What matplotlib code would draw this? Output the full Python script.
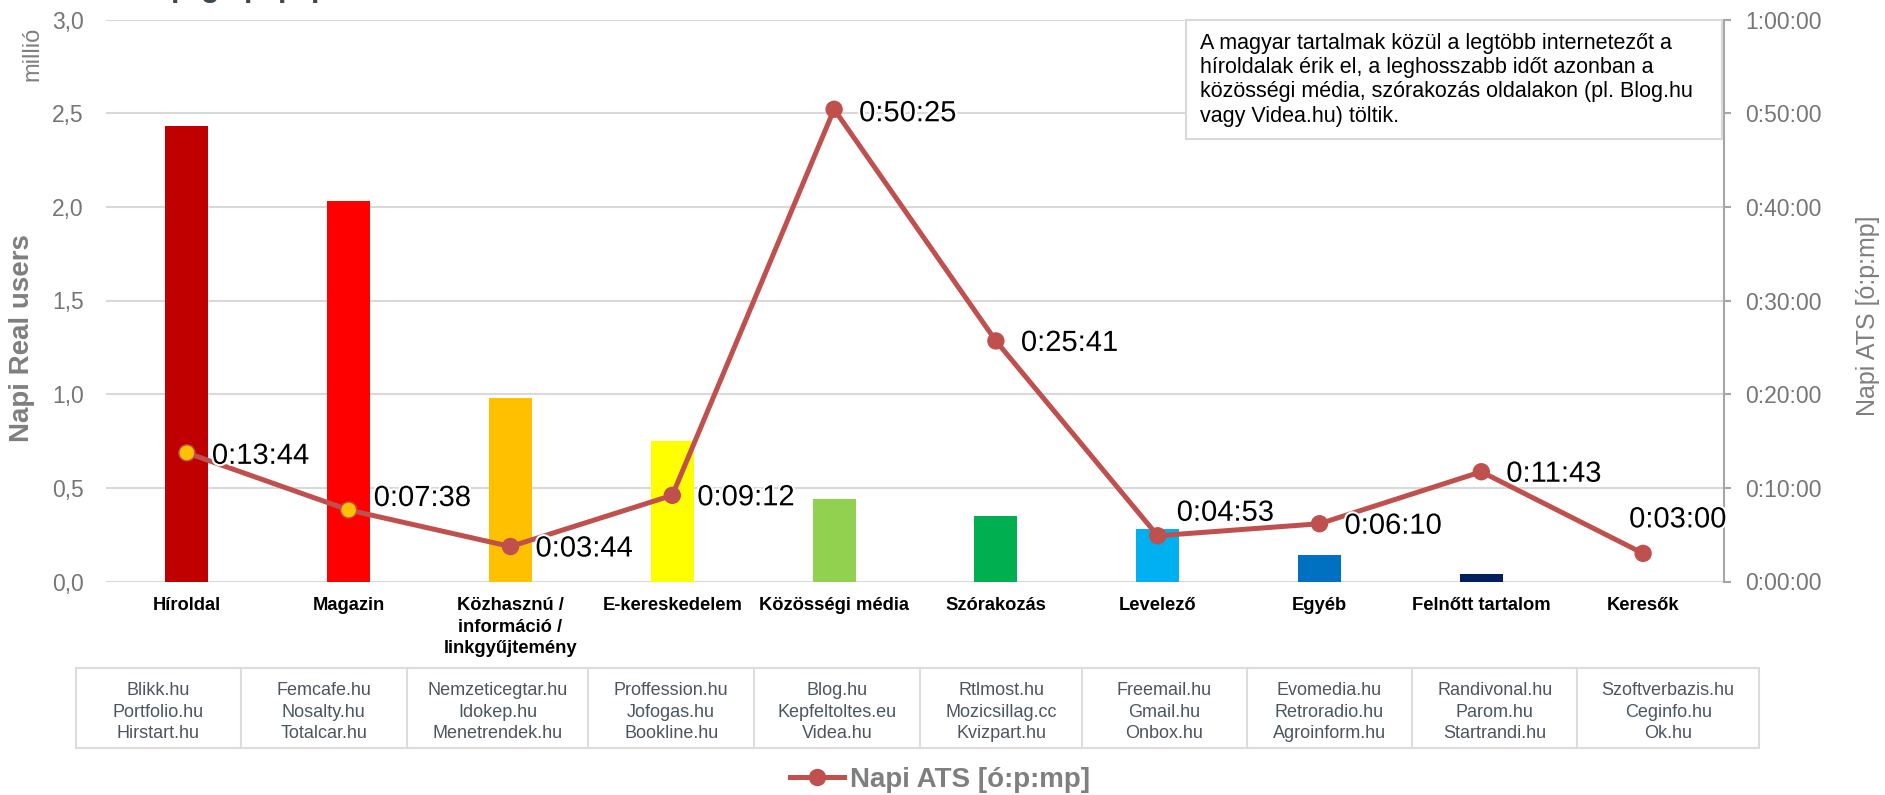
import matplotlib
matplotlib.use('Agg')
import matplotlib.pyplot as plt
from matplotlib.lines import Line2D
from matplotlib.patches import Rectangle
import matplotlib.patheffects as pe
from matplotlib.transforms import blended_transform_factory

plt.rcParams['font.family'] = ['Liberation Sans', 'DejaVu Sans']

# ---------------- data ----------------
categories = ['Híroldal', 'Magazin', 'Közhasznú /\ninformáció /\nlinkgyűjtemény',
              'E-kereskedelem', 'Közösségi média', 'Szórakozás', 'Levelező',
              'Egyéb', 'Felnőtt tartalom', 'Keresők']
real_users = [2.43, 2.03, 0.98, 0.75, 0.44, 0.35, 0.28, 0.14, 0.04, 0.0]
ats = ['0:13:44', '0:07:38', '0:03:44', '0:09:12', '0:50:25',
       '0:25:41', '0:04:53', '0:06:10', '0:11:43', '0:03:00']
bar_colors = ['#c00000', '#ff0000', '#ffc000', '#ffff00', '#92d050',
              '#00b050', '#00b0f0', '#0070c0', '#002060', '#7030a0']
marker_colors = ['#ffc000', '#ffc000'] + ['#c0504d'] * 8
sites = [['Blikk.hu', 'Portfolio.hu', 'Hirstart.hu'],
         ['Femcafe.hu', 'Nosalty.hu', 'Totalcar.hu'],
         ['Nemzeticegtar.hu', 'Idokep.hu', 'Menetrendek.hu'],
         ['Proffession.hu', 'Jofogas.hu', 'Bookline.hu'],
         ['Blog.hu', 'Kepfeltoltes.eu', 'Videa.hu'],
         ['Rtlmost.hu', 'Mozicsillag.cc', 'Kvizpart.hu'],
         ['Freemail.hu', 'Gmail.hu', 'Onbox.hu'],
         ['Evomedia.hu', 'Retroradio.hu', 'Agroinform.hu'],
         ['Randivonal.hu', 'Parom.hu', 'Startrandi.hu'],
         ['Szoftverbazis.hu', 'Ceginfo.hu', 'Ok.hu']]
left_ticks = [0.0, 0.5, 1.0, 1.5, 2.0, 2.5, 3.0]
right_ticks = ['0:00:00', '0:10:00', '0:20:00', '0:30:00', '0:40:00', '0:50:00', '1:00:00']
note_lines = ['A magyar tartalmak közül a legtöbb internetezőt a',
              'híroldalak érik el, a leghosszabb időt azonban a',
              'közösségi média, szórakozás oldalakon (pl. Blog.hu',
              'vagy Videa.hu) töltik.']
series_name = 'Napi ATS [ó:p:mp]'


def to_minutes(s):
    h, m, sec = (int(p) for p in s.split(':'))
    return h * 60 + m + sec / 60.0


ats_min = [to_minutes(s) for s in ats]
right_vals = [to_minutes(s) for s in right_ticks]

# ---------------- layout helpers (pixels) ----------------
W, H = 1885, 795
fig = plt.figure(figsize=(W / 100, H / 100), dpi=100)


def fx(px):
    return px / W


def fy(py):
    return 1 - py / H


AX_L, AX_R, AX_T, AX_B = 106, 1724, 19.5, 581.5
ax = fig.add_axes([fx(AX_L), fy(AX_B), fx(AX_R) - fx(AX_L), fy(AX_T) - fy(AX_B)])
x = list(range(len(categories)))

ax.bar(x, real_users, width=0.265, color=bar_colors, zorder=2)
ax.set_xlim(-0.5, len(categories) - 0.5)
ax.set_ylim(0, 3)
ax.set_yticks(left_ticks)
ax.set_yticklabels([f'{v:.1f}'.replace('.', ',') for v in left_ticks])
ax.yaxis.grid(True, color='#d9d9d9', lw=1.5)
ax.set_axisbelow(True)
for s in ax.spines.values():
    s.set_visible(False)
ax.tick_params(axis='y', length=0, pad=16, labelsize=16.5, labelcolor='#767676')
ax.set_xticks([])

# category labels (bold, multi-line)
tr = blended_transform_factory(ax.transData, fig.transFigure)
for i, lab in enumerate(categories):
    for j, line in enumerate(lab.split('\n')):
        ax.text(i, fy(610 + j * 21.7), line, transform=tr, ha='center', va='baseline',
                fontsize=13.2, fontweight='bold', color='black')

# secondary axis
ax2 = ax.twinx()
ax2.set_ylim(0, 60)
ax2.set_yticks(right_vals)
ax2.set_yticklabels(right_ticks)
for k, s in ax2.spines.items():
    s.set_visible(k == 'right')
ax2.spines['right'].set_color('#a6a6a6')
ax2.spines['right'].set_linewidth(1.5)
ax2.tick_params(axis='y', length=5, width=1.5, color='#a6a6a6', direction='out',
                pad=10, labelsize=16.5, labelcolor='#767676')

ax2.plot(x, ats_min, color='#c0504d', lw=3.6, zorder=3, solid_capstyle='round')
ax2.scatter(x, ats_min, s=11.5 ** 2, c=marker_colors, edgecolors='#c0504d',
            linewidths=1.0, zorder=4)

# data label offsets in pixels (dx, dy of baseline)
label_offsets = [(25, -11), (25, 4), (25, -10), (25, -10), (25, -12),
                 (25, -10), (19, 15), (25, -10), (25, -10), (-14, 26)]
for i, (v, s) in enumerate(zip(ats_min, ats)):
    dx, dy = label_offsets[i]
    ax2.annotate(s, (i, v), xytext=(dx, dy), textcoords='offset pixels',
                 ha='left', va='baseline', fontsize=21, color='black', zorder=6,
                 path_effects=[pe.withStroke(linewidth=3, foreground='white')])

# axis titles
fig.text(fx(22), fy(338), 'Napi Real users', rotation=90, ha='center', va='center',
         fontsize=20, fontweight='bold', color='#7f7f7f')
fig.text(fx(32), fy(54), 'millió', rotation=90, ha='center', va='center',
         fontsize=17, color='#7f7f7f')
fig.text(fx(1868), fy(316), series_name, rotation=90, ha='center', va='center',
         fontsize=18, color='#7f7f7f')

# note box
fig.patches.append(Rectangle((fx(1186), fy(139)), fx(1722) - fx(1186), fy(19.5) - fy(139),
                             transform=fig.transFigure, facecolor='white',
                             edgecolor='#d9d9d9', lw=1.5, zorder=5))
for j, line in enumerate(note_lines):
    fig.text(fx(1200), fy(48.5 + j * 24.4), line, ha='left', va='baseline',
             fontsize=15.5, color='black', zorder=6)

# site table
cell_edges = [75.7, 240.7, 406.7, 588.3, 754, 920, 1082, 1246.7, 1412.3, 1577.3, 1759]
T_TOP, T_BOT = 668, 748
fig.patches.append(Rectangle((fx(cell_edges[0]), fy(T_BOT)), fx(cell_edges[-1]) - fx(cell_edges[0]),
                             fy(T_TOP) - fy(T_BOT), transform=fig.transFigure,
                             facecolor='none', edgecolor='#dcdcdc', lw=1.5, zorder=5))
for e in cell_edges[1:-1]:
    fig.add_artist(Line2D([fx(e), fx(e)], [fy(T_TOP), fy(T_BOT)], transform=fig.transFigure,
                          color='#dcdcdc', lw=1.5, zorder=5))
for i, names in enumerate(sites):
    cx = (cell_edges[i] + cell_edges[i + 1]) / 2
    for j, nm in enumerate(names):
        fig.text(fx(cx), fy(695 + j * 21.7), nm, ha='center', va='baseline',
                 fontsize=13, color='#4b5661', zorder=6)

# legend
handle = Line2D([], [], color='#c0504d', lw=3.6, marker='o', ms=11.5,
                mfc='#c0504d', mec='#c0504d')
fig.legend(handles=[handle], labels=[series_name], loc='center',
           bbox_to_anchor=(fx(940), fy(780)), frameon=False,
           prop=dict(weight='bold', size=20), labelcolor='#7f7f7f',
           handlelength=1.94, handletextpad=0.22, borderpad=0, borderaxespad=0)

# clipped title fragments at the very top (only descenders visible)
for px_, ch in zip([180, 210, 253, 287, 320], ['p', 'g', 'p', 'p', 'p']):
    fig.text(fx(px_), fy(-3.5), ch, ha='center', va='baseline', fontsize=22,
             fontweight='bold', color='#3d4852')

fig.savefig('out.png', dpi=100)
